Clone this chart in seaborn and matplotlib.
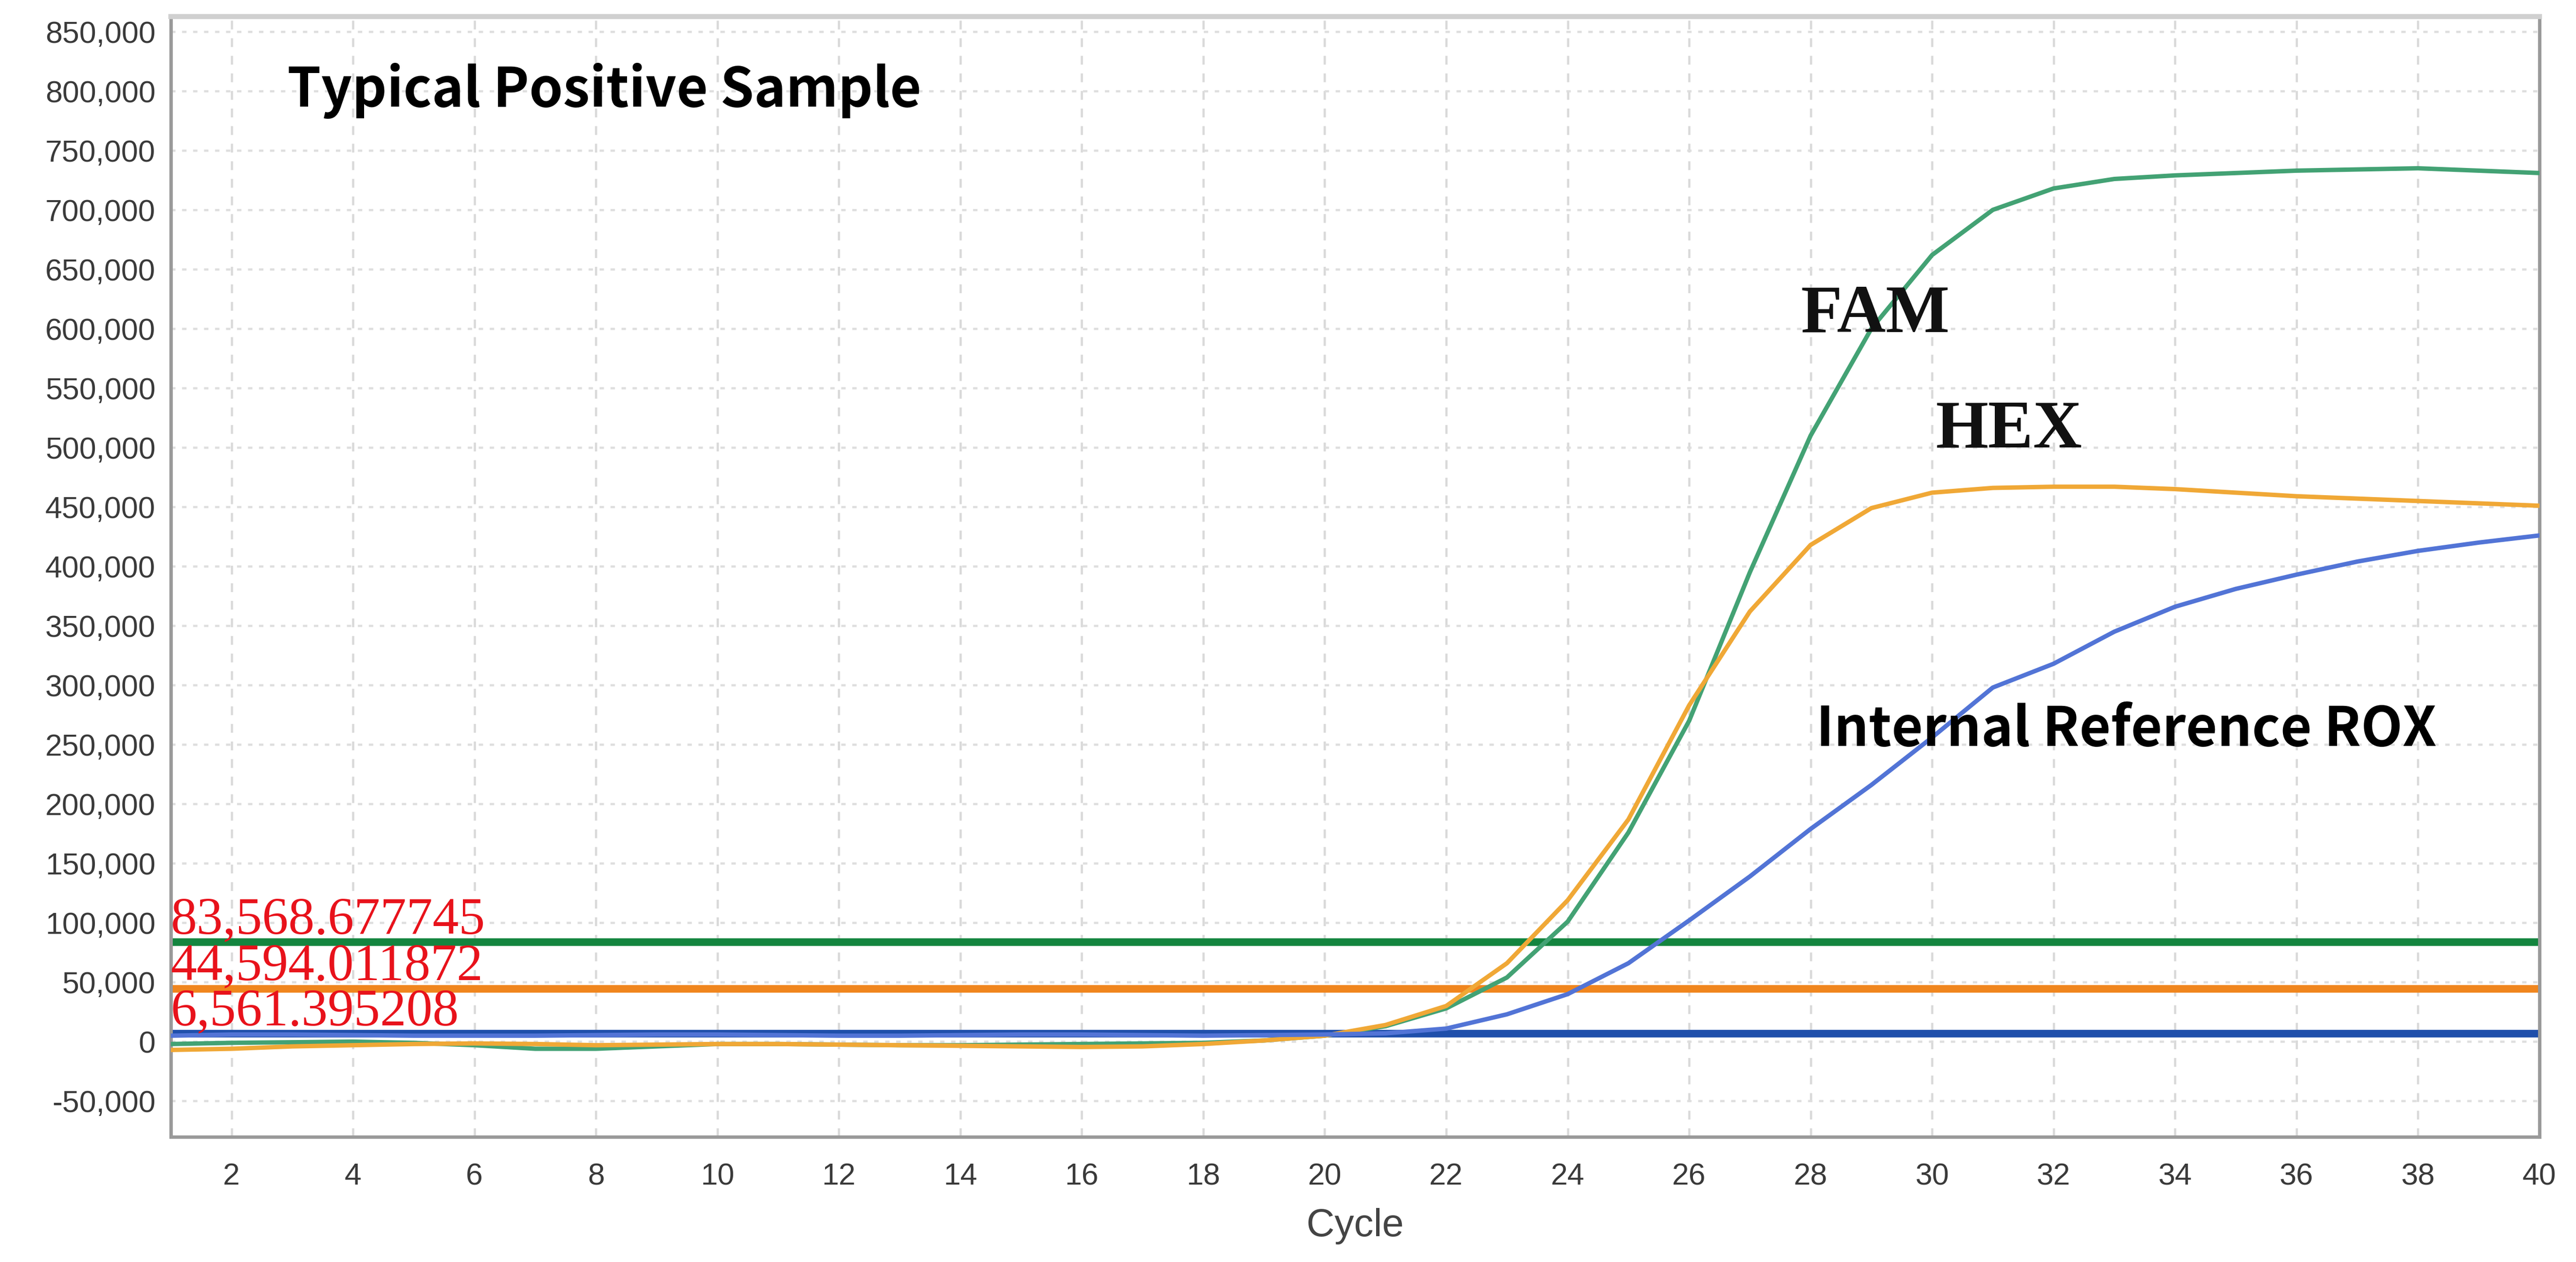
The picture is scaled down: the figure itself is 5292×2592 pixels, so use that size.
import numpy as np
import pandas as pd
import matplotlib
matplotlib.use("Agg")
import matplotlib.pyplot as plt
import seaborn as sns
from matplotlib.ticker import FuncFormatter

# ---- data ----
cycles = list(range(1, 41))

fam = [-2000, -1000, -500, 0, -1000, -3000, -6000, -6000, -4000, -2000,
       -2000, -2500, -3000, -3000, -2500, -2000, -1500, -1000, 1000, 5000,
       13000, 28000, 54000, 101000, 176000, 270000, 395000, 510000, 600000, 662000,
       700000, 718000, 726000, 729000, 731000, 733000, 734000, 735000, 733000, 731000]

hex_ = [-7000, -6000, -4000, -3000, -2000, -1500, -2000, -3000, -2500, -2000,
        -2000, -2500, -3000, -3500, -4000, -4500, -4000, -2000, 1000, 5000,
        14000, 30000, 66000, 119000, 187000, 283000, 362000, 418000, 449000, 462000,
        466000, 467000, 467000, 465000, 462000, 459000, 457000, 455000, 453000, 451000]

rox = [5000, 6000, 6000, 5500, 5000, 5000, 5000, 5500, 6000, 6000,
       5500, 5000, 5000, 5500, 6000, 6000, 5500, 5000, 5500, 6000,
       7000, 11000, 23000, 40000, 66000, 102000, 139000, 179000, 216000, 256000,
       298000, 318000, 345000, 366000, 381000, 393000, 404000, 413000, 420000, 426000]

thresholds = [83568.677745, 44594.011872, 6561.395208]
threshold_labels = ["83,568.677745", "44,594.011872", "6,561.395208"]

curve_colors = {"FAM": "#43a274", "HEX": "#f0a836", "ROX": "#5274d6"}
threshold_colors = ["#14853f", "#f0861e", "#1f4fab"]

df = pd.DataFrame({
    "Cycle": cycles * 3,
    "RFU": fam + hex_ + rox,
    "Channel": ["FAM"] * 40 + ["HEX"] * 40 + ["ROX"] * 40,
})

# ---- plot ----
sns.set_style("white")
fig = plt.figure(figsize=(21.168, 10.368), dpi=250)
ax = fig.add_axes([0.0663, 0.0990, 0.9195, 0.8880])

ax.set_xlim(1, 40)
ax.set_ylim(-80300, 862800)
ax.set_xticks(range(2, 41, 2))
ax.set_yticks(range(-50000, 850001, 50000))
ax.yaxis.set_major_formatter(FuncFormatter(lambda v, p: f"{int(v):,}"))

ax.grid(True, axis="x", color="#d9d9d9", linestyle=(0, (4, 4)), linewidth=1.3)
ax.grid(True, axis="y", color="#dedede", linestyle=(0, (2, 3)), linewidth=1.3)
ax.set_axisbelow(True)

# threshold lines
for thr, col in zip(thresholds, threshold_colors):
    ax.axhline(thr, color=col, linewidth=4.5, zorder=2)

sns.lineplot(data=df, x="Cycle", y="RFU", hue="Channel", palette=curve_colors,
             linewidth=2.6, legend=False, ax=ax, zorder=3)

# threshold value labels
for thr, lab in zip(thresholds, threshold_labels):
    ax.text(1.0, thr + 7500, lab, color="#e8121b", fontsize=31,
            family="Liberation Serif", ha="left", va="baseline", zorder=4)

# annotations
ax.text(2.92, 800000, "Typical Positive Sample", fontsize=32, fontweight="bold",
        family=["Noto Sans CJK SC", "DejaVu Sans"], ha="left", va="center", color="black")
ax.text(28.09, 262000, "Internal Reference ROX", fontsize=32, fontweight="bold",
        family=["Noto Sans CJK SC", "DejaVu Sans"], ha="left", va="center", color="black")
ax.text(27.84, 611000, "FAM", fontsize=40, fontweight="bold",
        family="Liberation Serif", ha="left", va="center", color="#111111")
ax.text(30.06, 514000, "HEX", fontsize=40, fontweight="bold",
        family="Liberation Serif", ha="left", va="center", color="#111111")

ax.set_xlabel("Cycle", fontsize=23, family="Liberation Sans", color="#444444", labelpad=10)
ax.set_ylabel("")
ax.tick_params(axis="both", direction="out", length=5, width=1.2, color="#999999",
               labelsize=18, labelcolor="#3a3a3a", pad=4)
ax.tick_params(axis="x", pad=10)
for lab in ax.get_xticklabels() + ax.get_yticklabels():
    lab.set_family("Liberation Sans")

for side in ["left", "bottom", "right"]:
    ax.spines[side].set_color("#9a9a9a")
    ax.spines[side].set_linewidth(2)
ax.spines["top"].set_color("#d0d0d0")
ax.spines["top"].set_linewidth(3)

fig.savefig("out.png", dpi=250)
